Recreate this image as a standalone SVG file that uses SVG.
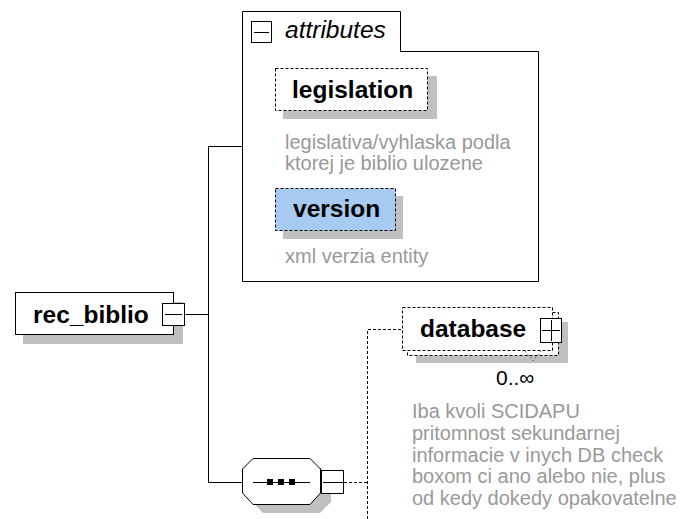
<svg xmlns="http://www.w3.org/2000/svg" width="681" height="519" viewBox="0 0 681 519">
<style>
.box{fill:#fff;stroke:#000;stroke-width:1}
.dbox{fill:#fff;stroke:#000;stroke-width:1;stroke-dasharray:3,2}
.sh{fill:#c0c0c0;stroke:none}
.ln{stroke:#000;stroke-width:1;fill:none}
.dl{stroke:#000;stroke-width:1;fill:none;stroke-dasharray:3,2}
.name{font-family:"Liberation Sans",Arial,sans-serif;font-weight:bold;font-size:24.5px;fill:#000}
.desc{font-family:"Liberation Sans",Arial,sans-serif;font-size:20px;fill:#999}
</style>
<rect width="681" height="519" fill="#fff"/>
<g id="connectors">
<path class="ln" d="M185.5,314.5H208.5M208.5,146.5V482.5M208.5,146.5H242.5M208.5,482.5H242.5"/>
<path class="dl" d="M344,482.5H367.5M367.5,519V329.5H402"/>
</g>
<g id="attributes">
<path class="box" d="M242.5,11.5H400.5V51.5H538.5V281.5H242.5Z"/>
<rect class="box" x="251.5" y="21.5" width="20" height="21"/>
<path class="ln" d="M254,32.5H269"/>
<text x="285" y="38" font-family="Liberation Sans,Arial,sans-serif" font-style="italic" font-size="24.5px" fill="#000">attributes</text>
</g>
<g id="legislation">
<rect class="sh" x="283" y="76" width="154" height="43"/>
<rect class="dbox" x="275.5" y="68.5" width="152" height="42"/>
<text class="name" x="292" y="98">legislation</text>
<text class="desc" x="285" y="149">legislativa/vyhlaska podla</text>
<text class="desc" x="285" y="170">ktorej je biblio ulozene</text>
</g>
<g id="version">
<rect class="sh" x="283" y="196" width="120" height="43"/>
<rect class="dbox" x="275.5" y="188.5" width="120" height="42" style="fill:#a6caf0"/>
<text class="name" x="293" y="217">version</text>
<text class="desc" x="285" y="263">xml verzia entity</text>
</g>
<g id="rec_biblio">
<rect class="sh" x="23" y="302" width="160" height="42"/>
<rect class="box" x="15.5" y="292.5" width="158" height="42"/>
<text class="name" x="33" y="323">rec_biblio</text>
<rect class="box" x="162.5" y="303.5" width="22" height="22"/>
<path class="ln" d="M165,314.5H182"/>
</g>
<g id="sequence">
<polygon class="sh" points="263,467 320,467 331,478 331,502 320,513 263,513 252,502 252,478"/>
<polygon class="box" points="253,458.5 310,458.5 320.5,469 320.5,493 310,504.5 253,504.5 242.5,493 242.5,469"/>
<path class="ln" d="M253,482.5H310"/>
<rect x="267" y="479" width="6" height="6" fill="#000"/>
<rect x="278" y="479" width="6" height="6" fill="#000"/>
<rect x="289" y="479" width="6" height="6" fill="#000"/>
<rect class="box" x="321.5" y="470.5" width="22" height="23"/>
<path class="ln" d="M323,482.5H344"/>
</g>
<g id="database">
<rect class="sh" x="416" y="322" width="152" height="41"/>
<rect class="dbox" x="407.5" y="312.5" width="151" height="43"/>
<rect class="dbox" x="402.5" y="307.5" width="150" height="43"/>
<path d="M525,351L533,361L541,351" fill="none" stroke="#666" stroke-width="1" stroke-dasharray="2,2"/>
<text class="name" x="420" y="337">database</text>
<rect class="box" x="540.5" y="318.5" width="21" height="24"/>
<path class="ln" d="M542,330.5H560M551.5,320V341"/>
<text x="496" y="385" font-family="Liberation Sans,Arial,sans-serif" font-size="21px" fill="#000">0..∞</text>
<text class="desc" x="412" y="418">Iba kvoli SCIDAPU</text>
<text class="desc" x="412" y="440">pritomnost sekundarnej</text>
<text class="desc" x="412" y="462">informacie v inych DB check</text>
<text class="desc" x="412" y="483">boxom ci ano alebo nie, plus</text>
<text class="desc" x="412" y="505">od kedy dokedy opakovatelne</text>
</g>
</svg>
